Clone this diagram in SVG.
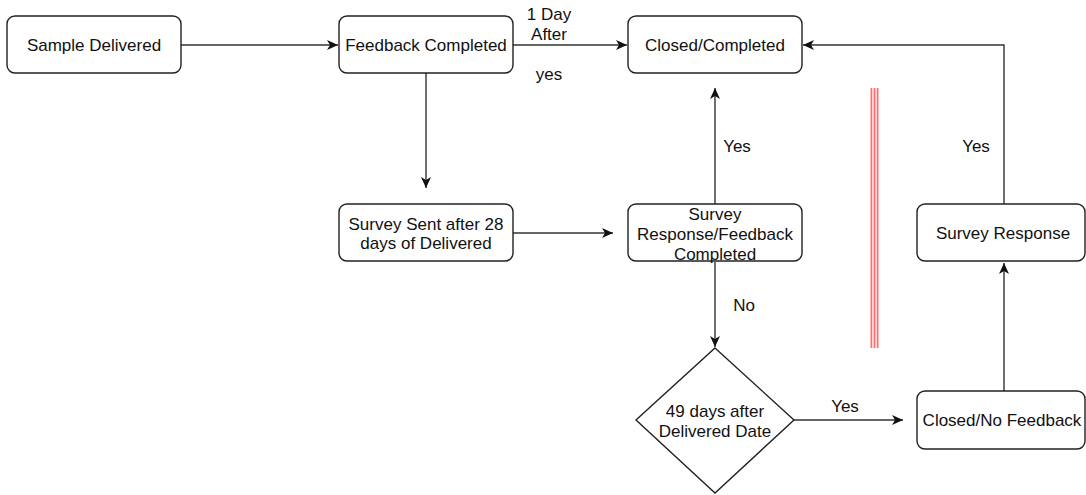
<svg xmlns="http://www.w3.org/2000/svg" width="1086" height="495" viewBox="0 0 1086 495">
<style>
.box{fill:#fff;stroke:#222;stroke-width:1.4}
.edge{fill:none;stroke:#333;stroke-width:1.4}
text{font-family:"Liberation Sans",Arial,sans-serif;font-size:17px;fill:#111;text-anchor:middle}
.red{stroke:#ff7070;stroke-width:1.8}
</style>
<defs>
<marker id="arr" markerUnits="userSpaceOnUse" markerWidth="12" markerHeight="11" refX="11" refY="5.5" orient="auto">
<path d="M0,0.5 L11,5.5 L0,10.5 L3,5.5 z" fill="#111"/>
</marker>
</defs>
<rect width="1086" height="495" fill="#fff"/>
<g id="connectors">
<line class="edge" x1="181" y1="45" x2="338" y2="45" marker-end="url(#arr)"/>
<line class="edge" x1="513" y1="45" x2="627" y2="45" marker-end="url(#arr)"/>
<line class="edge" x1="426" y1="73" x2="426" y2="188" marker-end="url(#arr)"/>
<line class="edge" x1="513" y1="233" x2="613" y2="233" marker-end="url(#arr)"/>
<line class="edge" x1="715" y1="204" x2="715" y2="88" marker-end="url(#arr)"/>
<line class="edge" x1="715" y1="262" x2="715" y2="347" marker-end="url(#arr)"/>
<line class="edge" x1="794" y1="420" x2="903" y2="420" marker-end="url(#arr)"/>
<line class="edge" x1="1004" y1="391" x2="1004" y2="263" marker-end="url(#arr)"/>
<polyline class="edge" points="1004,204 1004,45 803,45" marker-end="url(#arr)"/>
<text x="549" y="20">1 Day</text>
<text x="549" y="40">After</text>
<text x="549" y="80">yes</text>
<text x="737" y="152">Yes</text>
<text x="744" y="311">No</text>
<text x="845" y="412">Yes</text>
<text x="976" y="152">Yes</text>
</g>
<g id="divider">
<line class="red" x1="871.4" y1="88" x2="871.4" y2="348"/>
<line class="red" x1="874.5" y1="88" x2="874.5" y2="348"/>
<line class="red" x1="877.6" y1="88" x2="877.6" y2="348"/>
</g>
<g id="sample-delivered">
<rect class="box" x="7" y="16" width="174" height="57" rx="8"/>
<text x="94" y="51">Sample Delivered</text>
</g>
<g id="feedback-completed">
<rect class="box" x="339" y="16" width="174" height="57" rx="8"/>
<text x="426" y="51">Feedback Completed</text>
</g>
<g id="closed-completed">
<rect class="box" x="628" y="16" width="174" height="57" rx="8"/>
<text x="715" y="51">Closed/Completed</text>
</g>
<g id="survey-sent">
<rect class="box" x="339" y="204" width="174" height="57" rx="8"/>
<text x="426" y="230">Survey Sent after 28</text>
<text x="426" y="249">days of Delivered</text>
</g>
<g id="survey-response-feedback">
<rect class="box" x="628" y="204" width="174" height="57" rx="8"/>
<text x="715" y="220">Survey</text>
<text x="715" y="240">Response/Feedback</text>
<text x="715" y="260">Completed</text>
</g>
<g id="survey-response">
<rect class="box" x="917" y="204" width="168" height="57" rx="8"/>
<text x="1003" y="239">Survey Response</text>
</g>
<g id="closed-no-feedback">
<rect class="box" x="917" y="391" width="168" height="58" rx="8"/>
<text x="1002" y="426">Closed/No Feedback</text>
</g>
<g id="decision-49-days">
<polygon class="box" points="715,348 794,420 715,493 636,420"/>
<text x="715" y="417">49 days after</text>
<text x="715" y="437">Delivered Date</text>
</g>
</svg>
